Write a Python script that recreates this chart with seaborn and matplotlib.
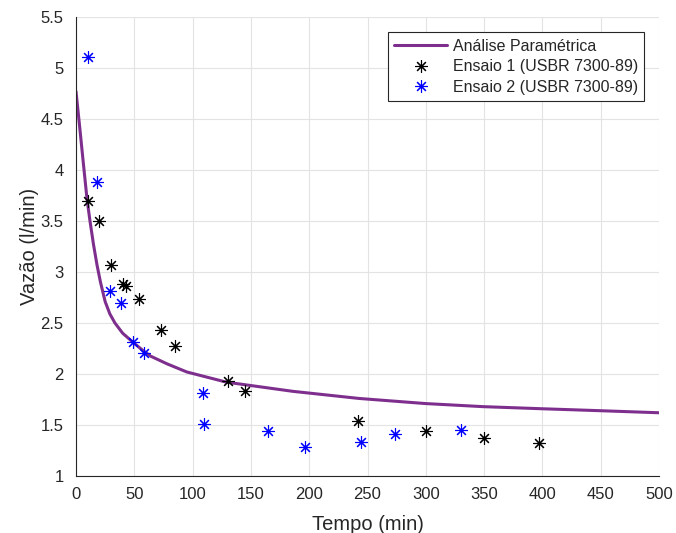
import matplotlib
matplotlib.use("Agg")
import matplotlib.pyplot as plt
import seaborn as sns
import pandas as pd

# Curve: Análise Paramétrica
curve_t = [0, 3, 6, 9.5, 12, 15, 18, 21, 25, 29, 33.4, 40, 50, 58, 64, 78, 95, 129,
           186, 243, 300, 349, 398, 450, 500]
curve_q = [4.77, 4.44, 4.10, 3.71, 3.50, 3.27, 3.07, 2.90, 2.71, 2.59, 2.50, 2.40, 2.30,
           2.225, 2.175, 2.10, 2.02, 1.92, 1.83, 1.76, 1.71, 1.68, 1.66, 1.64, 1.62]

# Ensaio 1
e1_t = [10, 20, 30, 40, 43, 54, 73, 85, 130, 145, 242, 300, 350, 397]
e1_q = [3.70, 3.50, 3.07, 2.88, 2.86, 2.74, 2.43, 2.27, 1.93, 1.83, 1.54, 1.44, 1.37, 1.32]

# Ensaio 2
e2_t = [10, 18, 29, 39, 49, 58, 109, 110, 165, 196, 244, 274, 330]
e2_q = [5.11, 3.88, 2.81, 2.70, 2.31, 2.21, 1.81, 1.51, 1.44, 1.28, 1.33, 1.41, 1.45]

x_ticks = [0, 50, 100, 150, 200, 250, 300, 350, 400, 450, 500]
y_ticks = [1, 1.5, 2, 2.5, 3, 3.5, 4, 4.5, 5, 5.5]
y_tick_labels = ["1", "1.5", "2", "2.5", "3", "3.5", "4", "4.5", "5", "5.5"]

labels = ["Análise Paramétrica", "Ensaio 1 (USBR 7300-89)", "Ensaio 2 (USBR 7300-89)"]

sns.set_style("white")
plt.rcParams['font.family'] = ['Liberation Sans', 'DejaVu Sans']

fig = plt.figure(figsize=(6.76, 5.33), dpi=100)
ax = fig.add_axes([76/676, 1 - 476/533, (659 - 76)/676, (476 - 17)/533])

df_c = pd.DataFrame({"t": curve_t, "q": curve_q})
df1 = pd.DataFrame({"t": e1_t, "q": e1_q})
df2 = pd.DataFrame({"t": e2_t, "q": e2_q})

ast = (8, 2, 0)
sns.lineplot(data=df_c, x="t", y="q", ax=ax, color="#7E2F8E", linewidth=2.2,
             label=labels[0], sort=False)
sns.lineplot(data=df1, x="t", y="q", ax=ax, color="black", linestyle="",
             marker=ast, markersize=9, markeredgewidth=0.8, markeredgecolor="black",
             label=labels[1], sort=False)
sns.lineplot(data=df2, x="t", y="q", ax=ax, color="#0000FF", linestyle="",
             marker=ast, markersize=9, markeredgewidth=0.8, markeredgecolor="#0000FF",
             label=labels[2], sort=False)

ax.set_xlim(0, 500)
ax.set_ylim(1, 5.5)
ax.set_xticks(x_ticks)
ax.set_xticklabels([str(v) for v in x_ticks])
ax.set_yticks(y_ticks)
ax.set_yticklabels(y_tick_labels)

ax.grid(True, color="#e3e3e3", linewidth=0.8)
ax.set_axisbelow(True)
for s in ["top", "right"]:
    ax.spines[s].set_visible(False)
for s in ["left", "bottom"]:
    ax.spines[s].set_color("#262626")
    ax.spines[s].set_linewidth(0.8)
ax.tick_params(axis="both", direction="in", length=4, width=0.8, color="#262626",
               labelsize=12, labelcolor="#262626")
ax.tick_params(axis="y", pad=9)
ax.tick_params(axis="x", pad=8)

ax.set_xlabel("Tempo (min)", fontsize=14.5, color="#262626", labelpad=9)
ax.set_ylabel("Vazão (l/min)", fontsize=14.5, color="#262626", labelpad=1)

leg = ax.legend(loc="upper right", bbox_to_anchor=(0.975, 0.967), fontsize=11.5,
                frameon=True, fancybox=False, edgecolor="#262626", framealpha=1,
                borderpad=0.4, labelspacing=0.35, handlelength=3.3, handletextpad=0.35,
                borderaxespad=0)
leg.get_frame().set_linewidth(0.8)
for t in leg.get_texts():
    t.set_color("#262626")

fig.savefig("out.png", dpi=100)
